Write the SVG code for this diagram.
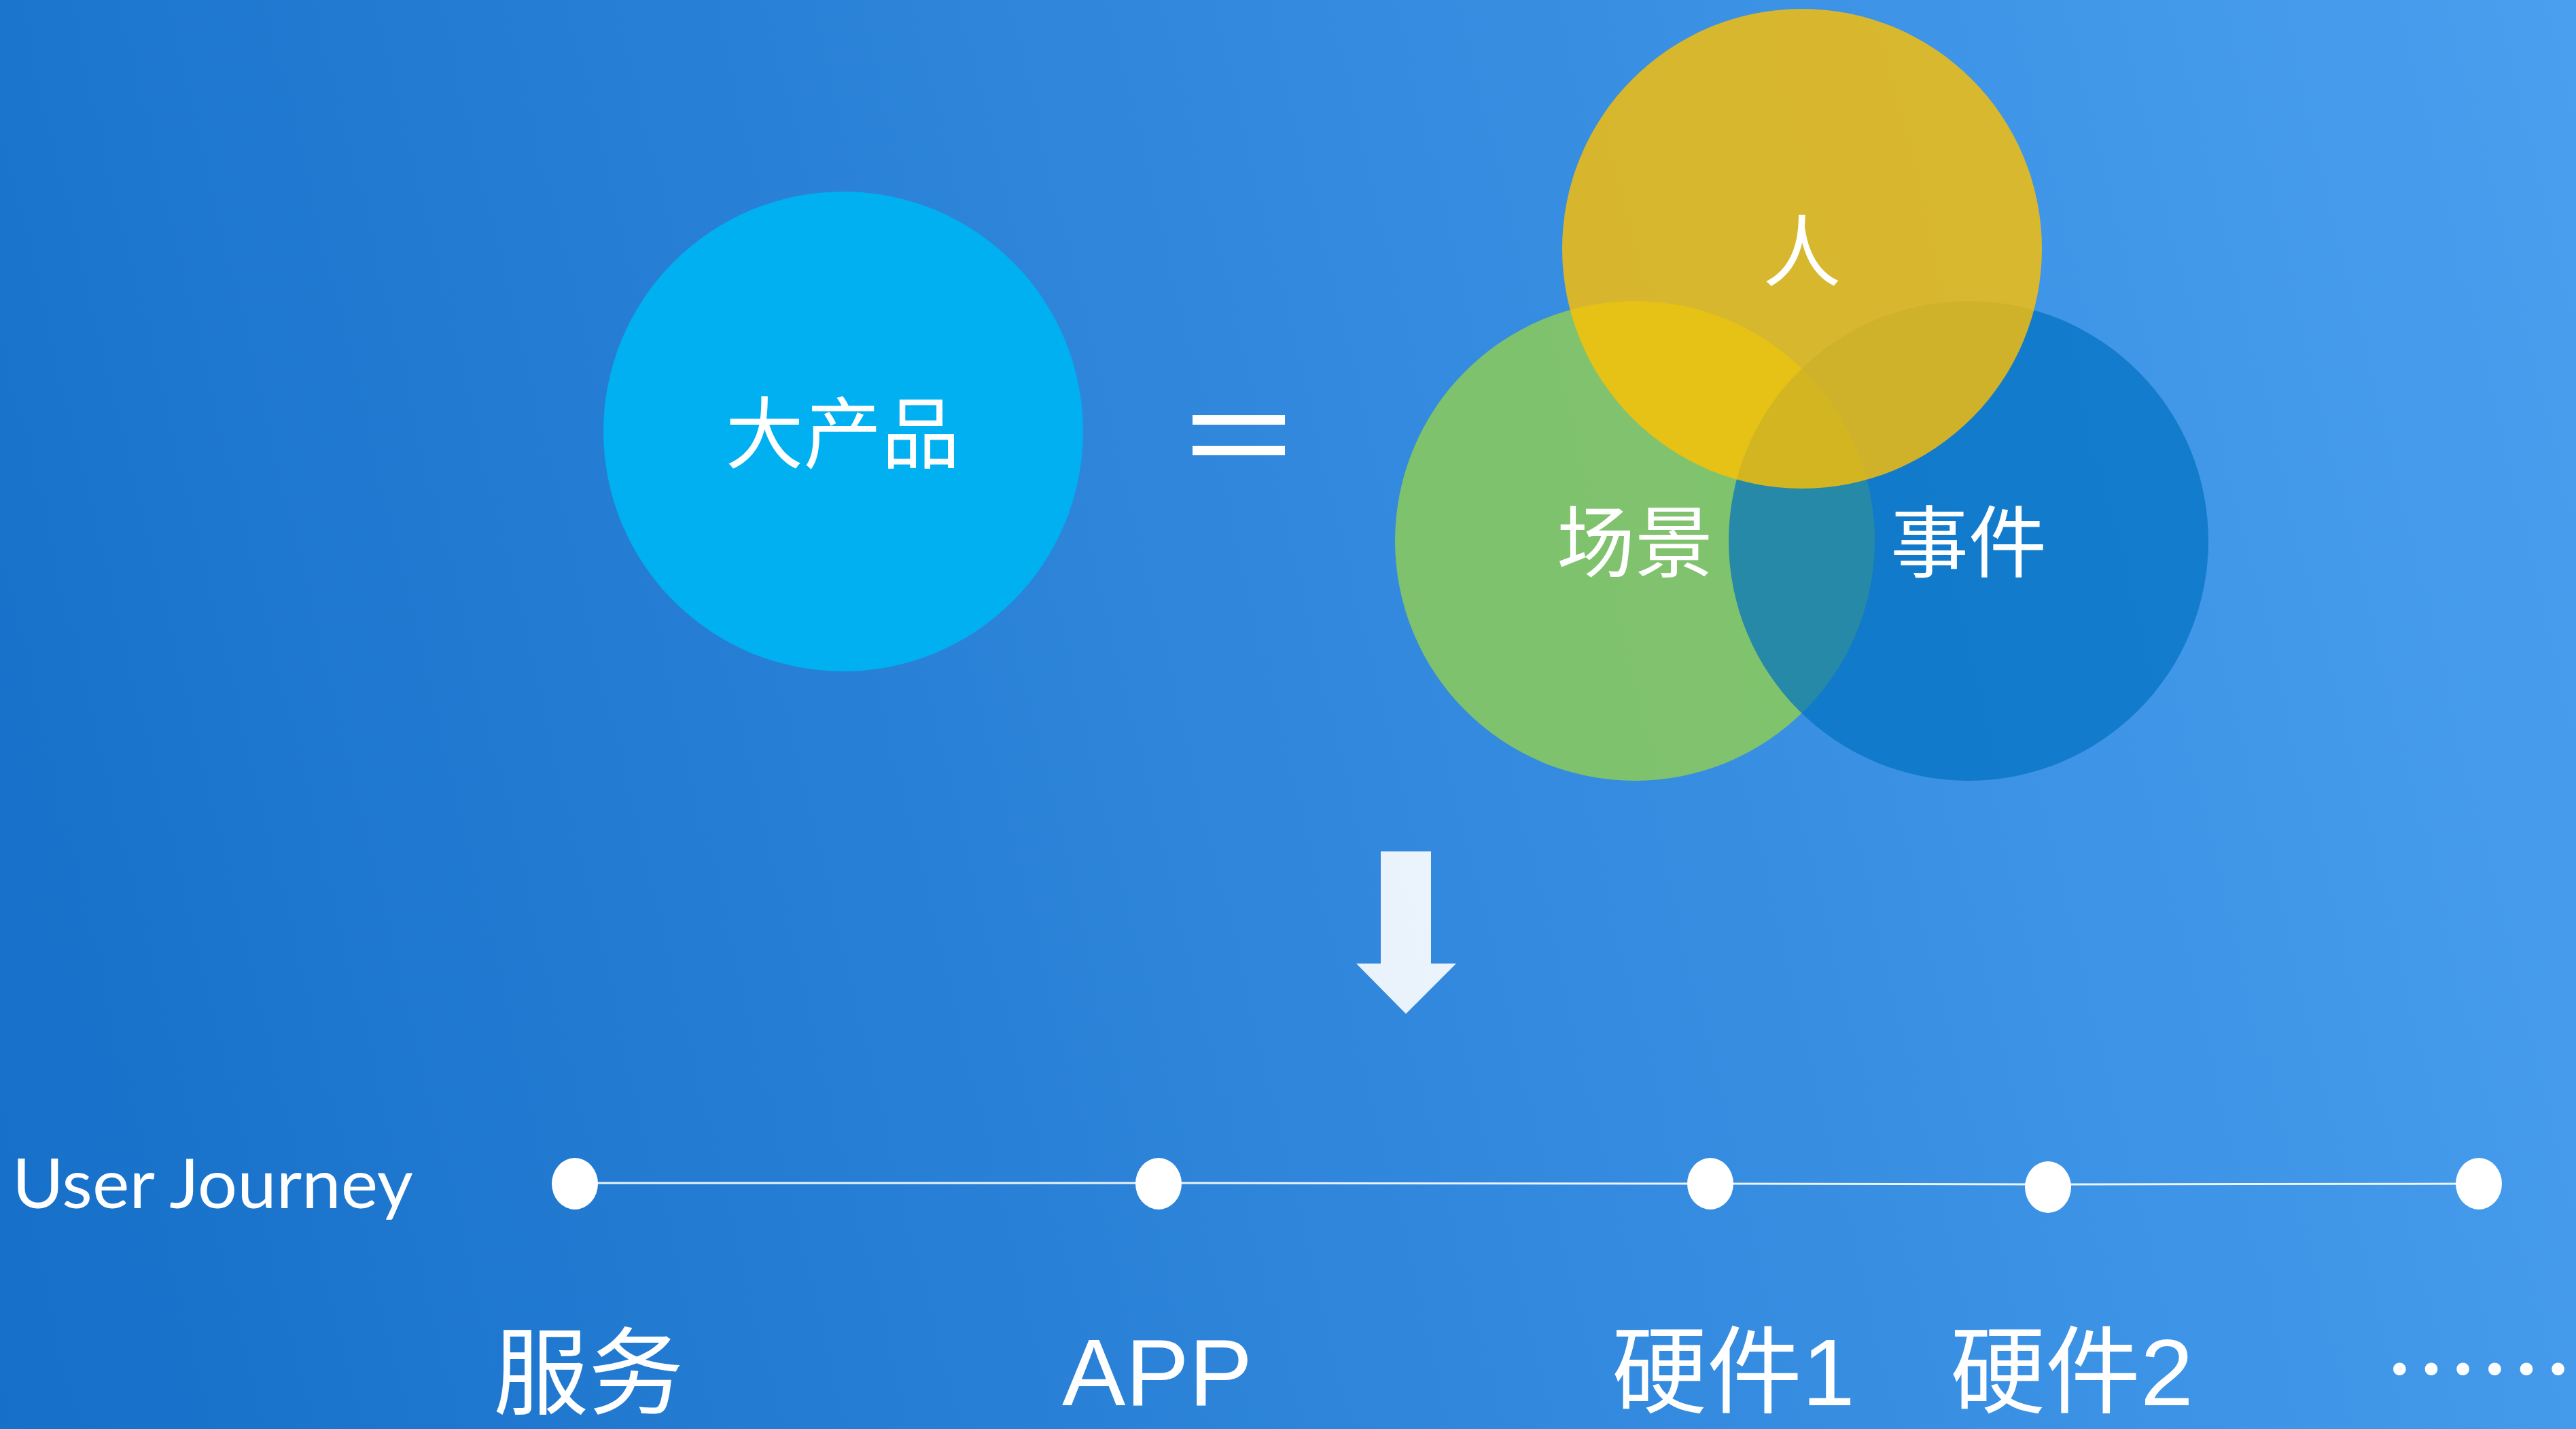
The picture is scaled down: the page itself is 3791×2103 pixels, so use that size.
<svg xmlns="http://www.w3.org/2000/svg" width="3791" height="2103" viewBox="0 0 3791 2103">
<defs>
<linearGradient id="bg" gradientUnits="userSpaceOnUse" x1="0" y1="2103" x2="4063" y2="1129">
<stop offset="0" stop-color="#166fc8"/>
<stop offset="1" stop-color="#4a9fef"/>
</linearGradient>
<style>
.cjk{font-family:"Noto Sans CJK SC","Noto Sans",sans-serif;fill:#ffffff;}
.lbl{font-family:"Liberation Sans","Noto Sans CJK SC",sans-serif;font-size:140px;fill:#ffffff;}
.big{font-size:115px;text-anchor:middle;}
.dot{fill:#ffffff;}
.conn{stroke:#ffffff;stroke-width:3;stroke-opacity:0.9;}
</style>
</defs>
<rect x="0" y="0" width="3791" height="2103" fill="url(#bg)"/>

<g id="node-daChanPin">
<circle cx="1241" cy="635" r="353" fill="#00b0f0"/>
<text class="cjk big" x="1240" y="680">大产品</text>
</g>

<g id="equals">
<rect x="1755" y="611" width="136" height="14" fill="#ffffff"/>
<rect x="1755" y="656" width="136" height="14" fill="#ffffff"/>
</g>

<g id="node-changjing">
<circle cx="2406" cy="796" r="353" fill="#92d050" fill-opacity="0.8"/>
</g>
<g id="node-shijian">
<circle cx="2897" cy="796" r="353" fill="#0070c0" fill-opacity="0.7"/>
</g>
<g id="node-ren">
<circle cx="2652" cy="366" r="353" fill="#ffc000" fill-opacity="0.8"/>
<text class="cjk big" x="2652" y="412">人</text>
</g>
<g id="labels-venn">
<text class="cjk big" x="2406" y="840">场景</text>
<text class="cjk big" x="2897" y="840">事件</text>
</g>

<g id="down-arrow">
<polygon points="2032,1253 2106,1253 2106,1418 2143,1418 2069,1492 1996,1418 2032,1418" fill="#ffffff" fill-opacity="0.9"/>
</g>

<g id="user-journey-title">
<text x="18" y="1778" font-family="Lato, 'Open Sans', sans-serif" font-size="100" fill="#ffffff" textLength="590" lengthAdjust="spacingAndGlyphs">User Journey</text>
</g>

<g id="connectors">
<line class="conn" x1="846" y1="1741" x2="1705" y2="1741"/>
<line class="conn" x1="1705" y1="1741" x2="2517" y2="1742"/>
<line class="conn" x1="2517" y1="1742" x2="3014" y2="1743"/>
<line class="conn" x1="3014" y1="1743" x2="3648" y2="1742"/>
</g>

<g id="node-fuwu">
<ellipse class="dot" cx="846" cy="1742" rx="34" ry="38"/>
<text class="cjk" font-size="140" x="726" y="2070">服务</text>
</g>
<g id="node-app">
<ellipse class="dot" cx="1705" cy="1742" rx="34" ry="38"/>
<text class="lbl" x="1563" y="2068">APP</text>
</g>
<g id="node-yingjian1">
<ellipse class="dot" cx="2517" cy="1742" rx="34" ry="38"/>
<text class="lbl" x="2372" y="2068">硬件1</text>
</g>
<g id="node-yingjian2">
<ellipse class="dot" cx="3014" cy="1747" rx="34" ry="38"/>
<text class="lbl" x="2870" y="2068">硬件2</text>
</g>
<g id="node-more">
<ellipse class="dot" cx="3648" cy="1742" rx="34" ry="38"/>
<text class="cjk" font-size="140" x="3508" y="2068">……</text>
</g>
</svg>
